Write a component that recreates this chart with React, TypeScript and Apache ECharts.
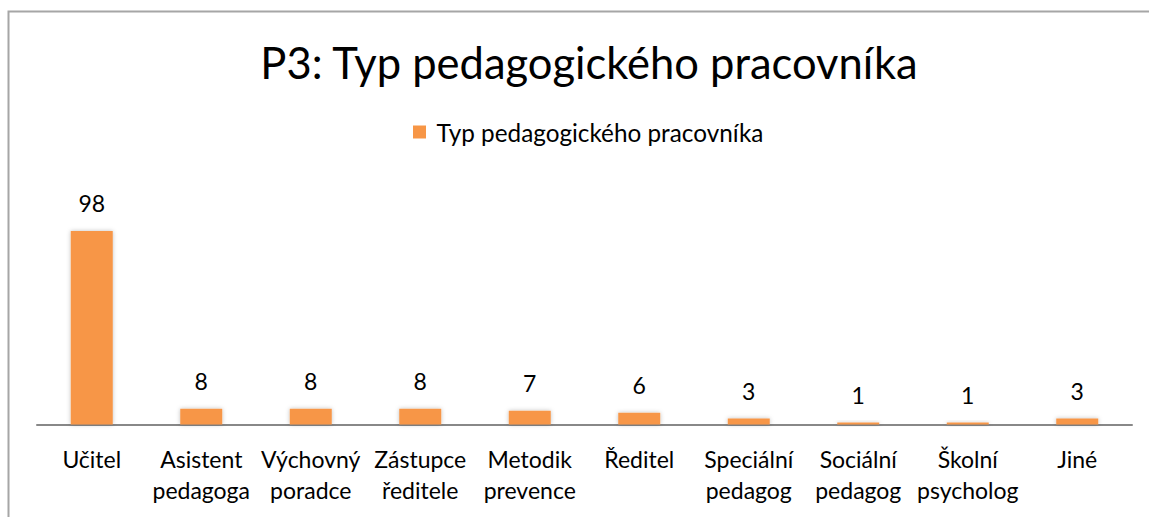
import React, { useEffect, useRef } from "react";
import * as echarts from "echarts";

const titleText = "P3: Typ pedagogického pracovníka";
const seriesName = "Typ pedagogického pracovníka";
const categories = [
  "Učitel",
  "Asistent\npedagoga",
  "Výchovný\nporadce",
  "Zástupce\nředitele",
  "Metodik\nprevence",
  "Ředitel",
  "Speciální\npedagog",
  "Sociální\npedagog",
  "Školní\npsycholog",
  "Jiné",
];
const values = [98, 8, 8, 8, 7, 6, 3, 1, 1, 3];

const FONT = "Lato, 'Open Sans', sans-serif";

export default function App() {
  const ref = useRef<HTMLDivElement>(null);
  useEffect(() => {
    if (!ref.current) return;
    const chart = echarts.init(ref.current, null, { renderer: "svg" });
    chart.setOption({
      animation: false,
      backgroundColor: "#ffffff",
      title: {
        text: titleText,
        left: 584,
        textAlign: "center",
        top: 35,
        textStyle: { fontFamily: FONT, fontSize: 43.5, fontWeight: "normal", color: "#000" },
      },
      legend: {
        data: [seriesName],
        top: 115,
        left: 408,
        itemWidth: 13,
        itemHeight: 13,
        itemGap: 10,
        icon: "rect",
        formatter: (n: string) => " " + n,
        textStyle: { fontFamily: FONT, fontSize: 24.3, color: "#000" },
      },
      graphic: [
        {
          type: "rect",
          shape: { x: 8.5, y: 11.5, width: 1300, height: 700 },
          style: { fill: "none", stroke: "#a6a6a6", lineWidth: 2 },
          silent: true,
        },
      ],
      grid: { left: 37, right: 17, top: 187.5, bottom: 92.5 },
      xAxis: {
        type: "category",
        data: categories,
        axisLine: { lineStyle: { color: "#888888", width: 2 } },
        axisTick: { show: false },
        axisLabel: {
          interval: 0,
          fontFamily: FONT,
          fontSize: 23,
          color: "#000",
          lineHeight: 31,
          margin: 19,
        },
      },
      yAxis: {
        type: "value",
        min: 0,
        max: 120,
        show: false,
        splitLine: { show: false },
      },
      series: [
        {
          name: seriesName,
          type: "bar",
          data: values,
          barWidth: 42,
          itemStyle: {
            color: "#F79646",
            shadowColor: "rgba(0,0,0,0.25)",
            shadowBlur: 4,
          },
          label: {
            show: true,
            position: "top",
            distance: 16,
            fontFamily: FONT,
            fontSize: 23,
            color: "#000",
          },
        },
      ],
    });
    return () => chart.dispose();
  }, []);
  return (
    <div
      ref={ref}
      style={{ position: "fixed", left: 0, top: 0, width: 1149, height: 517 }}
    />
  );
}
